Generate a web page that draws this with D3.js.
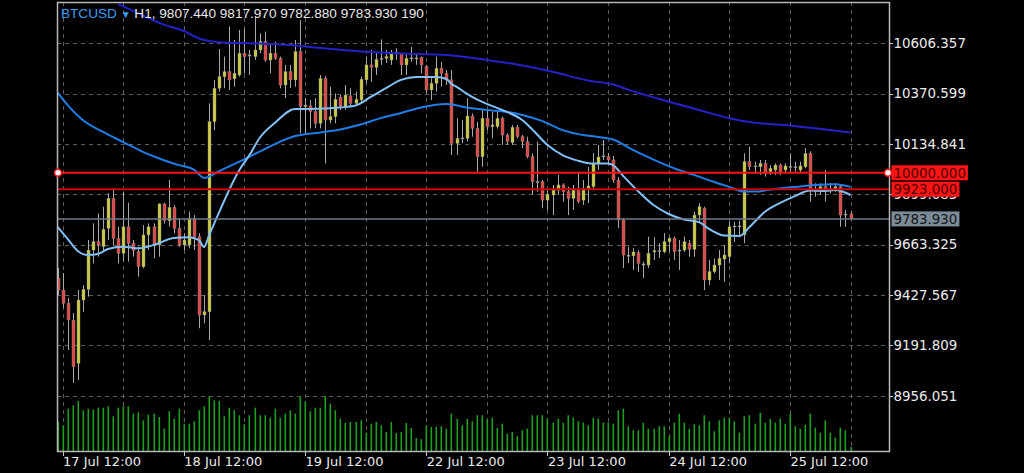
<!DOCTYPE html>
<html><head><meta charset="utf-8">
<script src="https://cdn.jsdelivr.net/npm/d3@7"></script>
<style>html,body{margin:0;padding:0;background:#000;} svg{display:block;}</style>
</head><body>
<svg id="chart" width="1024" height="473"></svg>
<script>
// ---------------- data ----------------
const symbol = "BTCUSD";
const headerText = "H1, 9807.440 9817.970 9782.880 9783.930 190";

const open = [
9507,9451,9389,9310,9108,9404,9454,9638,9677,9654,
9740,9880,9693,9623,9747,9670,9630,9560,9709,9747,
9662,9854,9775,9838,9740,9662,9662,9787,9701,9334,
9349,10239,10396,10450,10473,10440,10458,10560,10547,10544,
10575,10614,10528,10560,10536,10411,10473,10435,10567,10310,
10313,10286,10232,10442,10247,10263,10353,10310,10360,10325,
10341,10435,10505,10494,10531,10536,10528,10560,10560,10505,
10536,10538,10539,10497,10388,10419,10489,10466,10435,10138,
10161,10161,10266,10208,10075,10255,10216,10216,10255,10177,
10141,10213,10169,10146,10075,9958,9958,9872,9896,9919,
9943,9911,9880,9919,9872,9927,9935,10044,10074,10075,
10060,9966,9779,9614,9611,9626,9573,9568,9629,9630,
9630,9677,9693,9638,9638,9670,9642,9802,9834,9498,
9537,9568,9596,9607,9747,9751,9709,10052,10028,10028,
10044,10005,10013,10036,10013,10028,10028,10013,10028,10091,
9919,9916,9935,9927,9925,9935,9802,9807.44];
const high = [
9554,9531,9414,9343,9451,9474,9685,9763,9810,9841,
9904,9927,9747,9911,9860,9685,9654,9755,9763,9763,
9857,9860,9966,9849,9787,9717,9818,9802,9717,9428,
10325,10434,10580,10544,10684,10622,10669,10677,10575,10731,
10653,10661,10606,10614,10544,10505,10505,10622,10715,10349,
10341,10349,10458,10453,10403,10372,10364,10411,10396,10380,
10450,10544,10575,10567,10625,10575,10575,10583,10562,10552,
10590,10560,10544,10505,10442,10544,10520,10481,10481,10255,
10247,10349,10278,10239,10302,10294,10286,10286,10263,10185,
10224,10224,10177,10169,10091,10146,9966,9919,9943,9990,
9951,9935,9943,10005,9966,10027,10093,10130,10153,10093,
10079,9980,9788,9654,9648,9638,9584,9701,9698,9671,
9717,9701,9701,9685,9701,9685,9818,9857,9841,9592,
9599,9638,9662,9771,9771,9776,10091,10122,10052,10060,
10060,10036,10044,10044,10044,10091,10052,10052,10115,10100,
9951,9951,10013,9951,9951,9940,9826,9817.97];
const low = [
9428,9367,9170,9016,9030,9349,9420,9576,9607,9630,
9685,9662,9576,9584,9584,9607,9513,9553,9638,9599,
9607,9763,9747,9717,9654,9638,9646,9638,9272,9295,
9217,10200,10380,10396,10388,10403,10450,10466,10458,10528,
10560,10520,10466,10528,10396,10349,10397,10403,10185,10185,
10208,10208,10208,10044,10232,10232,10294,10294,10310,10317,
10325,10419,10426,10458,10505,10514,10505,10528,10458,10458,
10520,10505,10466,10372,10341,10380,10403,10411,10083,10083,
10138,10146,10169,10005,10028,10200,10161,10208,10130,10130,
10130,10161,10115,10068,9896,9911,9834,9826,9802,9896,
9865,9802,9826,9857,9849,9858,9919,10013,10060,10036,
9952,9741,9554,9577,9545,9535,9507,9554,9592,9601,
9623,9630,9592,9545,9629,9607,9607,9771,9451,9474,
9529,9498,9490,9576,9677,9701,9670,10013,9997,9990,
9982,9990,9990,9990,9997,9997,10005,9997,10021,9865,
9888,9896,9865,9904,9911,9747,9747,9782.88];
const close = [
9451,9389,9311,9092,9404,9454,9638,9677,9662,9735,
9880,9693,9623,9747,9670,9635,9560,9709,9747,9662,
9854,9776,9838,9740,9662,9685,9787,9701,9334,9349,
10239,10396,10450,10473,10435,10466,10560,10544,10552,10575,
10614,10528,10560,10536,10411,10473,10435,10567,10310,10317,
10286,10232,10442,10247,10263,10344,10310,10364,10325,10344,
10438,10505,10494,10531,10536,10544,10562,10564,10505,10536,
10538,10536,10505,10388,10419,10489,10466,10435,10138,10161,
10163,10266,10208,10075,10255,10216,10224,10255,10177,10146,
10213,10169,10146,10075,9958,9954,9872,9899,9919,9943,
9911,9880,9919,9865,9927,9938,10044,10074,10079,10060,
9966,9779,9615,9611,9629,9576,9568,9623,9635,9635,
9677,9693,9630,9638,9677,9642,9802,9841,9498,9537,
9568,9599,9615,9747,9751,9747,10052,10028,10032,10044,
9997,10021,10036,10005,10032,10030,10026,10032,10091,9919,
9911,9935,9919,9925,9935,9802,9807,9783.93];
const volume = [
1150,1015,1645,1775,1938,1585,1645,1607,1683,1683,
1737,1357,1683,1737,1737,1455,1509,1205,1417,1455,
1330,885,1547,1265,1645,1075,1075,1167,1585,1737,
2117,1965,1938,1357,1683,1585,1395,1053,1395,1683,
1395,1395,1303,1645,1303,1455,1585,1455,2117,1927,
1547,1683,1683,2117,1835,1585,1265,1102,1140,1140,
1205,733,1075,1140,1015,760,1140,722,760,1102,
912,532,483,1015,950,950,977,885,1455,1265,
1015,1265,1167,1395,1395,1227,1303,912,1075,695,
760,597,825,885,1395,1395,1395,1265,1113,1265,
1113,1395,1303,1167,1113,1015,1303,1265,1113,1113,
1075,1585,1645,977,825,825,1113,885,885,977,
977,597,1113,1455,1113,885,1053,1015,1395,1167,
787,1205,1303,1303,1167,733,1357,1395,1075,1493,
1113,1265,1113,1265,1075,1455,977,885,1037,1455,
923,733,1205,733,543,923,825,190];

// moving averages, read at selected bar indices
const maFastAt = [0,2,4,6,8,10,13,16,20,23,26,28,29,30,32,36,38,40,43,47,50,53,56,59,62,65,68,71,75,77,78,79,81,83,86,89,92,94,97,100,103,106,109,110,112,115,118,121,124,127,129,132,135,137,140,143,146,149,152,154,157];
const maFast   = [9747,9690,9634,9615,9620,9643,9654,9646,9670,9695,9698,9685,9652,9707,9816,10013,10083,10163,10233,10299,10299,10301,10306,10315,10355,10396,10435,10449,10449,10439,10416,10402,10371,10344,10313,10285,10247,10203,10130,10083,10057,10043,10044,10036,9985,9912,9849,9807,9781,9769,9737,9706,9704,9746,9816,9858,9891,9917,9915,9919,9896];
const maMidAt = [0,2,5,9,13,17,20,24,27,29,32,36,40,44,47,52,56,60,64,68,72,77,81,85,89,92,96,100,104,107,110,114,118,122,126,130,133,136,138,142,146,150,154,157];
const maMid   = [10375,10317,10247,10191,10144,10097,10068,10036,10015,9976,10008,10052,10099,10145,10172,10189,10203,10226,10256,10280,10306,10322,10306,10294,10285,10271,10242,10200,10177,10168,10156,10106,10062,10022,9990,9957,9934,9912,9912,9924,9933,9943,9946,9934];
const maSlowAt = [12,15,18,21,25,28,30,33,39,46,52,60,68,77,85,91,98,105,110,114,121,127,133,138,144,150,157];
const maSlow   = [10790,10758,10725,10694,10664,10629,10617,10610,10606,10598,10584,10568,10559,10552,10528,10507,10473,10432,10413,10381,10333,10294,10255,10234,10224,10208,10188];

const yTicks = [8956.051, 9191.809, 9427.567, 9663.325, 9899.083, 10134.841, 10370.599, 10606.357];
const xTickAt = [1, 25, 49, 73, 97, 121, 145];
const xTickLabels = ["17 Jul 12:00", "18 Jul 12:00", "19 Jul 12:00", "22 Jul 12:00", "23 Jul 12:00", "24 Jul 12:00", "25 Jul 12:00"];
const levels = [10000, 9923];
const bid = 9783.93;

// ---------------- drawing ----------------
const svg = d3.select("#chart");
const P = {left: 57, right: 890, top: 2, bottom: 452};
const FONT = "'DejaVu Sans', 'Liberation Sans', sans-serif";
const HFONT = "'Liberation Sans', Arial, sans-serif";
const n = open.length;

const x = d3.scaleLinear().domain([0, n - 1]).range([57.55, 850.5]);
const y = d3.scaleLinear().domain([8956.051, 10606.357]).range([395.7, 43.3]);
const yv = d3.scaleLinear().domain([0, 2166]).range([P.bottom, P.bottom - 57]);

svg.append("rect").attr("width", 1024).attr("height", 473).attr("fill", "#000");

const defs = svg.append("defs");
defs.append("clipPath").attr("id", "clip")
  .append("rect").attr("x", P.left).attr("y", P.top).attr("width", P.right - P.left).attr("height", P.bottom - P.top);

const g = svg.append("g").attr("clip-path", "url(#clip)");

// grid
const gridColor = "#5e5e5e";
g.selectAll("line.hg").data(yTicks).join("line")
  .attr("x1", P.left).attr("x2", P.right)
  .attr("y1", d => Math.round(y(d)) + 0.5).attr("y2", d => Math.round(y(d)) + 0.5)
  .attr("stroke", gridColor).attr("stroke-width", 1).attr("stroke-dasharray", "4,4");
const vGrid = d3.range(1, n, 12);
g.selectAll("line.vg").data(vGrid).join("line")
  .attr("x1", d => Math.round(x(d)) + 0.5).attr("x2", d => Math.round(x(d)) + 0.5)
  .attr("y1", P.top).attr("y2", P.bottom)
  .attr("stroke", gridColor).attr("stroke-width", 1).attr("stroke-dasharray", "4,4");

// volumes
g.selectAll("rect.vol").data(volume).join("rect")
  .attr("x", (d, i) => Math.round(x(i)) - 0.5)
  .attr("width", 1.6)
  .attr("y", d => yv(d))
  .attr("height", d => P.bottom - yv(d))
  .attr("fill", "#1f9f1f");

// candles
const idx = d3.range(n);
const cg = g.append("g");
cg.selectAll("line.wick").data(idx).join("line")
  .attr("x1", i => Math.round(x(i)) + 0.5).attr("x2", i => Math.round(x(i)) + 0.5)
  .attr("y1", i => y(high[i])).attr("y2", i => y(low[i]))
  .attr("stroke", "#a9a9a9").attr("stroke-width", 1);
cg.selectAll("rect.body").data(idx).join("rect")
  .attr("x", i => Math.round(x(i)) - 1)
  .attr("width", 3)
  .attr("y", i => Math.min(y(open[i]), y(close[i])))
  .attr("height", i => Math.max(1, Math.abs(y(open[i]) - y(close[i]))))
  .attr("fill", i => {
    const h = Math.abs(y(open[i]) - y(close[i]));
    if (h < 1.2) return "#b4b4b4";
    return close[i] >= open[i] ? "#cccc44" : "#e04848";
  })
  .attr("stroke", "#8a8a8a").attr("stroke-width", 0.4);

// moving averages
const line = d3.line().x(d => x(d[0])).y(d => y(d[1])).curve(d3.curveMonotoneX);
const mas = [
  {at: maSlowAt, v: maSlow, color: "#2222c8"},
  {at: maMidAt, v: maMid, color: "#1e7ee6"},
  {at: maFastAt, v: maFast, color: "#82c0f5"}
];
mas.forEach(m => {
  g.append("path").datum(m.at.map((a, k) => [a, m.v[k]]))
    .attr("d", line).attr("fill", "none").attr("stroke", m.color).attr("stroke-width", 2);
});

// level lines
g.append("line").attr("x1", P.left).attr("x2", P.right)
  .attr("y1", y(bid)).attr("y2", y(bid)).attr("stroke", "#6c7a88").attr("stroke-width", 1.5);
g.append("line").attr("x1", P.left).attr("x2", P.right)
  .attr("y1", y(levels[1])).attr("y2", y(levels[1])).attr("stroke", "#c80000").attr("stroke-width", 2);
g.append("line").attr("x1", P.left).attr("x2", P.right)
  .attr("y1", y(levels[0])).attr("y2", y(levels[0])).attr("stroke", "#ff1010").attr("stroke-width", 2);

// frame
svg.append("rect").attr("x", P.left + 0.5).attr("y", P.top + 0.5)
  .attr("width", P.right - P.left - 1).attr("height", P.bottom - P.top - 1)
  .attr("fill", "none").attr("stroke", "#b8b8b8").attr("stroke-width", 1.5);

// handles on the 10000 line
[P.left + 1, P.right - 2].forEach(cx => {
  svg.append("circle").attr("cx", cx).attr("cy", y(levels[0])).attr("r", 3.5)
    .attr("fill", "#fff").attr("stroke", "#ff1010").attr("stroke-width", 1.5);
});

// y axis
const fmt = d3.format(".3f");
svg.selectAll("line.yt").data(yTicks).join("line")
  .attr("x1", P.right).attr("x2", P.right + 3)
  .attr("y1", d => Math.round(y(d)) + 0.5).attr("y2", d => Math.round(y(d)) + 0.5)
  .attr("stroke", "#c8c8c8");
svg.selectAll("text.yl").data(yTicks).join("text")
  .attr("x", P.right + 3.5).attr("y", d => y(d) + 4.8)
  .attr("fill", "#ececec").attr("font-family", FONT).attr("font-size", "13.4px")
  .text(d => fmt(d));

// price tags
function tag(price, fill, textFill) {
  const t = svg.append("text").attr("x", P.right + 3.5).attr("y", y(price) + 4.8)
    .attr("fill", textFill).attr("font-family", FONT).attr("font-size", "13.4px").text(fmt(price));
  const bb = t.node().getBBox();
  svg.insert("rect", () => t.node())
    .attr("x", P.right + 1.5).attr("y", y(price) - 7.5)
    .attr("width", bb.width + 4).attr("height", 15).attr("fill", fill);
}
tag(levels[0], "#ff1414", "#4a0000");
tag(levels[1], "#ff1414", "#4a0000");
tag(bid, "#7b8a99", "#151515");

// x axis
svg.selectAll("line.xt").data(xTickAt).join("line")
  .attr("x1", d => Math.round(x(d)) + 0.5).attr("x2", d => Math.round(x(d)) + 0.5)
  .attr("y1", P.bottom).attr("y2", P.bottom + 4)
  .attr("stroke", "#c8c8c8");
svg.selectAll("text.xl").data(xTickAt).join("text")
  .attr("x", d => x(d) + 0.5).attr("y", 466)
  .attr("fill", "#ececec").attr("font-family", FONT).attr("font-size", "13px")
  .text((d, k) => xTickLabels[k]);

// header
const ht = svg.append("text").attr("x", 61).attr("y", 17.5)
  .attr("font-family", HFONT).attr("font-size", "13.6px");
ht.append("tspan").attr("fill", "#3a9cf2").text(symbol + " ");
ht.append("tspan").attr("fill", "#3a9cf2").attr("font-size", "10px").text("\u25BC");
ht.append("tspan").attr("fill", "#eaeaea").text(" " + headerText);
</script>
</body></html>
